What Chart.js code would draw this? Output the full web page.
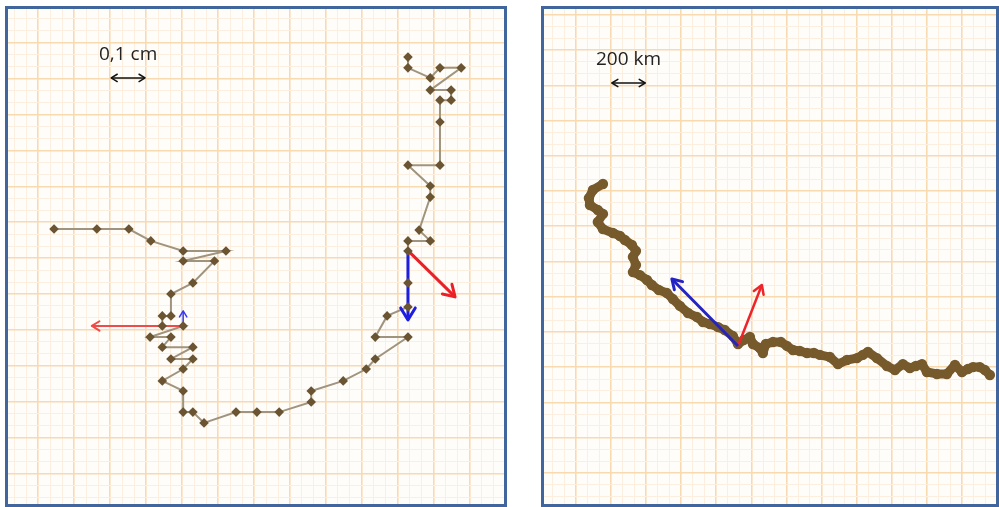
<!DOCTYPE html>
<html>
<head>
<meta charset="utf-8">
<script src="https://cdn.jsdelivr.net/npm/chart.js@4.4.1/dist/chart.umd.min.js"></script>
<style>
  body { margin: 0; background: #fff; }
  .panel { position: absolute; top: 6px; height: 501px; border: 3px solid #41669e; box-sizing: border-box; background: #fffdfa; }
  #leftPanel { left: 5px; width: 502px; }
  #rightPanel { left: 541px; width: 458px; }
  canvas { display: block; }
</style>
</head>
<body>
<div class="panel" id="leftPanel"><canvas id="leftChart" width="496" height="495"></canvas></div>
<div class="panel" id="rightPanel"><canvas id="rightChart" width="452" height="495"></canvas></div>
<script>
// left panel, in mm (one big square = 0,1 cm)
var leftX = [0.44, 1.63, 2.52, 3.13, 4.03, 5.22, 4.03, 4.90, 4.30, 3.69,
  3.69, 3.45, 3.45, 4.03, 3.11, 3.69, 3.45, 4.30, 3.69, 4.30,
  4.03, 3.45, 4.03, 4.03, 4.30, 4.61, 5.50, 6.08, 6.70, 7.59,
  7.59, 8.48, 9.12, 9.37, 10.28, 9.37, 9.70, 10.28, 10.28, 10.28,
  10.28, 10.90, 10.59, 10.90, 10.90, 10.28, 11.17, 11.17, 11.17, 11.48,
  11.48, 10.90, 11.76, 11.17, 10.90, 10.28, 10.28];
var leftY = [6.81, 6.81, 6.81, 6.48, 6.20, 6.20, 5.92, 5.92, 5.31, 5.00,
  4.39, 4.39, 4.11, 4.11, 3.80, 3.80, 3.52, 3.52, 3.19, 3.19,
  2.91, 2.58, 2.30, 1.71, 1.71, 1.41, 1.71, 1.71, 1.71, 1.99,
  2.30, 2.58, 2.91, 3.19, 3.80, 3.80, 4.39, 4.64, 5.31, 6.20,
  6.48, 6.48, 6.78, 7.70, 8.01, 8.59, 8.59, 9.79, 10.40, 10.40,
  10.68, 10.68, 11.30, 11.30, 11.02, 11.30, 11.60];
var leftRedShort = [[4.03, 4.11], [1.49, 4.11]];
var leftBlueShort = [[4.03, 4.11], [4.03, 4.53]];
var leftRedLong = [[10.26, 6.23], [11.59, 4.92]];
var leftBlueLong = [[10.28, 6.20], [10.28, 4.28]];
var leftScaleBar = [[2.03, 11.02], [2.97, 11.02]];
var leftXMin = -0.84, leftXMax = 12.95, leftYMin = -0.85, leftYMax = 12.94, leftMajor = 1;

// right panel, in km (one big square = 200 km)
var rightX = [154, 97, 74, 80, 125, 154, 125, 154, 211, 251,
  279, 319, 342, 325, 342, 325, 365, 405, 433, 473,
  519, 553, 593, 639, 690, 724, 764, 810, 849, 895,
  924, 958, 992, 1009, 1049, 1066, 1083, 1123, 1169, 1203,
  1237, 1277, 1317, 1357, 1391, 1448, 1494, 1545, 1602, 1636,
  1665, 1716, 1773, 1819, 1864, 1904, 1938, 1973, 2001, 2058,
  2115, 2161, 2201, 2235, 2263, 2303, 2332, 2360];
var rightY = [1640, 1606, 1560, 1521, 1492, 1470, 1424, 1384, 1362, 1345,
  1322, 1294, 1260, 1226, 1180, 1140, 1123, 1095, 1067, 1038,
  1021, 987, 948, 908, 885, 857, 845, 828, 811, 777,
  732, 755, 772, 732, 709, 681, 732, 743, 743, 721,
  698, 692, 681, 681, 670, 658, 618, 641, 652, 670,
  687, 652, 607, 584, 618, 596, 607, 618, 573, 562,
  562, 613, 573, 590, 601, 601, 584, 556];
var rightBlueArrow = [[924, 721], [547, 1101]];
var rightRedArrow = [[924, 721], [1060, 1067]];
var rightScaleBar = [[205, 2213], [395, 2213]];
var rightXMin = -182, rightXMax = 2395, rightYMin = -176, rightYMax = 2633, rightMajor = 200;

var scaleLabels = ["0,1 cm", "200 km"];

function toPoints(xs, ys) {
  return xs.map(function (x, i) { return { x: x, y: ys[i] }; });
}

function pairPoints(pair) {
  return pair.map(function (p) { return { x: p[0], y: p[1] }; });
}

function gridTicks(min, max, major) {
  var ticks = [];
  var minor = major / 3;
  for (var k = Math.ceil(min / minor); k * minor <= max; k++) {
    ticks.push({ value: k * minor, isMajor: k % 3 === 0 });
  }
  return ticks;
}

function gridAxis(min, max, major) {
  return {
    type: "linear",
    min: min,
    max: max,
    afterBuildTicks: function (axis) { axis.ticks = gridTicks(min, max, major); },
    ticks: { display: false },
    border: { display: false },
    grid: {
      drawTicks: false,
      color: function (c) { return c.tick && c.tick.isMajor ? "#f8dab1" : "#fdefdf"; },
      lineWidth: function (c) { return c.tick && c.tick.isMajor ? 1.6 : 1; }
    }
  };
}

function arrow(pair, color, width, head, extra) {
  var ds = {
    data: pairPoints(pair),
    showLine: true,
    borderColor: color,
    borderWidth: width,
    pointRadius: 0,
    arrowHead: head
  };
  return Object.assign(ds, extra || {});
}

function drawHead(ctx, from, to, len) {
  var ang = Math.atan2(to.y - from.y, to.x - from.x);
  ctx.beginPath();
  ctx.moveTo(to.x - len * Math.cos(ang - 0.55), to.y - len * Math.sin(ang - 0.55));
  ctx.lineTo(to.x, to.y);
  ctx.lineTo(to.x - len * Math.cos(ang + 0.55), to.y - len * Math.sin(ang + 0.55));
  ctx.stroke();
}

var arrowPlugin = {
  id: "arrows",
  afterDatasetsDraw: function (chart) {
    var ctx = chart.ctx;
    chart.data.datasets.forEach(function (ds, i) {
      if (!ds.arrowHead) return;
      var pts = chart.getDatasetMeta(i).data;
      var a = pts[0], b = pts[pts.length - 1];
      ctx.save();
      ctx.strokeStyle = ds.borderColor;
      ctx.lineWidth = ds.borderWidth;
      ctx.lineCap = "round";
      ctx.lineJoin = "round";
      drawHead(ctx, a, b, ds.arrowHead);
      if (ds.doubleHead) drawHead(ctx, b, a, ds.arrowHead);
      if (ds.caption) {
        ctx.fillStyle = "#222";
        ctx.font = '19px "Open Sans"';
        ctx.textAlign = "center";
        ctx.textBaseline = "middle";
        ctx.fillText(ds.caption, (a.x + b.x) / 2, a.y - 23);
      }
      ctx.restore();
    });
  }
};

function makeChart(id, datasets, xMin, xMax, yMin, yMax, major) {
  return new Chart(document.getElementById(id), {
    type: "scatter",
    data: { datasets: datasets },
    options: {
      responsive: false,
      animation: false,
      layout: { padding: 0, autoPadding: false },
      plugins: { legend: { display: false }, tooltip: { enabled: false } },
      scales: {
        x: gridAxis(xMin, xMax, major),
        y: gridAxis(yMin, yMax, major)
      }
    },
    plugins: [arrowPlugin]
  });
}

// first dataset is drawn on top: markers over arrows, path line under them
makeChart("leftChart", [
  {
    data: toPoints(leftX, leftY),
    pointStyle: "rectRot",
    pointRadius: 4.8,
    pointBorderWidth: 0,
    pointBackgroundColor: "#6a5432"
  },
  arrow(leftRedShort, "#f04a4a", 2, 9),
  arrow(leftBlueShort, "#3a3af0", 1.5, 7),
  arrow(leftRedLong, "#ea2026", 3, 13),
  arrow(leftBlueLong, "#1e1ee0", 3, 14),
  arrow(leftScaleBar, "#111", 1.5, 7, { doubleHead: true, caption: scaleLabels[0] }),
  {
    data: toPoints(leftX, leftY),
    showLine: true,
    borderColor: "#a0947e",
    borderWidth: 2,
    pointRadius: 0
  }
], leftXMin, leftXMax, leftYMin, leftYMax, leftMajor);

makeChart("rightChart", [
  arrow(rightBlueArrow, "#2424c4", 3, 11),
  arrow(rightRedArrow, "#ee2428", 2.5, 10),
  arrow(rightScaleBar, "#111", 1.5, 7, { doubleHead: true, caption: scaleLabels[1] }),
  {
    data: toPoints(rightX, rightY),
    showLine: true,
    borderColor: "#775a2c",
    borderWidth: 9,
    borderJoinStyle: "round",
    borderCapStyle: "round",
    pointRadius: 5.2,
    pointBorderWidth: 0,
    pointBackgroundColor: "#775a2c"
  }
], rightXMin, rightXMax, rightYMin, rightYMax, rightMajor);
</script>
</body>
</html>
